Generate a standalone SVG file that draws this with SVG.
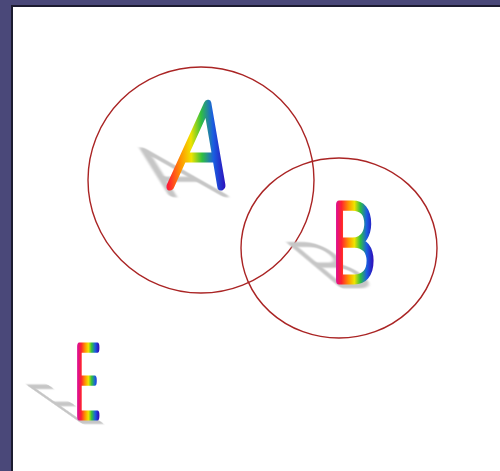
<svg xmlns="http://www.w3.org/2000/svg" width="500" height="471" viewBox="0 0 500 471">
<defs>
<linearGradient id="rainbow" gradientUnits="userSpaceOnUse" x1="-30" y1="0" x2="30" y2="0">
<stop offset="0" stop-color="#e0108a"/>
<stop offset="0.12" stop-color="#ff2030"/>
<stop offset="0.3" stop-color="#ff9400"/>
<stop offset="0.45" stop-color="#f0e400"/>
<stop offset="0.6" stop-color="#30c040"/>
<stop offset="0.76" stop-color="#1a5ee0"/>
<stop offset="0.9" stop-color="#2a18c0"/>
<stop offset="1" stop-color="#5010b0"/>
</linearGradient>
<linearGradient id="gradA" href="#rainbow" x1="-46" y1="10" x2="45" y2="-10"/>
<linearGradient id="gradB" href="#rainbow" x1="-24" y1="0" x2="34" y2="0"/>
<linearGradient id="gradE" href="#rainbow" x1="-19" y1="0" x2="30" y2="0"/>
<filter id="soft" x="-20%" y="-20%" width="140%" height="140%">
<feGaussianBlur stdDeviation="1.5"/>
</filter>
</defs>
<style>
.letter{font-family:Lato,"DejaVu Sans",sans-serif;font-weight:100;text-anchor:middle;stroke-width:9;stroke-linejoin:round;stroke-linecap:round}
.shadow{font-family:Lato,"DejaVu Sans",sans-serif;font-weight:100;text-anchor:middle;fill:#c6c6c6;stroke:#c6c6c6;stroke-width:8;stroke-linejoin:round;filter:url(#soft)}
.ring{fill:none;stroke:#aa2424;stroke-width:1.4}
</style>
<rect x="0" y="0" width="500" height="471" fill="#4a4879"/>
<rect x="11" y="5" width="489" height="466" fill="#1c1b30"/>
<rect x="13" y="7" width="487" height="464" fill="#ffffff"/>
<g id="circle-A"><circle class="ring" cx="201" cy="180" r="113"/></g>
<g id="circle-B"><ellipse class="ring" cx="339" cy="248" rx="98" ry="90"/></g>
<g id="node-A">
<text class="shadow" font-size="118" transform="translate(198,195) skewX(50) scale(0.75,0.55)">A</text>
<text class="letter" font-size="117" fill="url(#gradA)" stroke="url(#gradA)" transform="translate(196,186) skewX(-8) scale(0.75,1)">A</text>
</g>
<g id="node-B">
<text class="shadow" font-size="107" transform="translate(355,286) skewX(50) scale(0.68,0.55)">B</text>
<text class="letter" font-size="106" fill="url(#gradB)" stroke="url(#gradB)" transform="translate(353,280) scale(0.68,1)">B</text>
</g>
<g id="node-E">
<text class="shadow" font-size="100" transform="translate(89,422) skewX(55) scale(0.45,0.5)">E</text>
<text class="letter" font-size="99" fill="url(#gradE)" stroke="url(#gradE)" transform="translate(87,416) scale(0.45,1)">E</text>
</g>
</svg>
